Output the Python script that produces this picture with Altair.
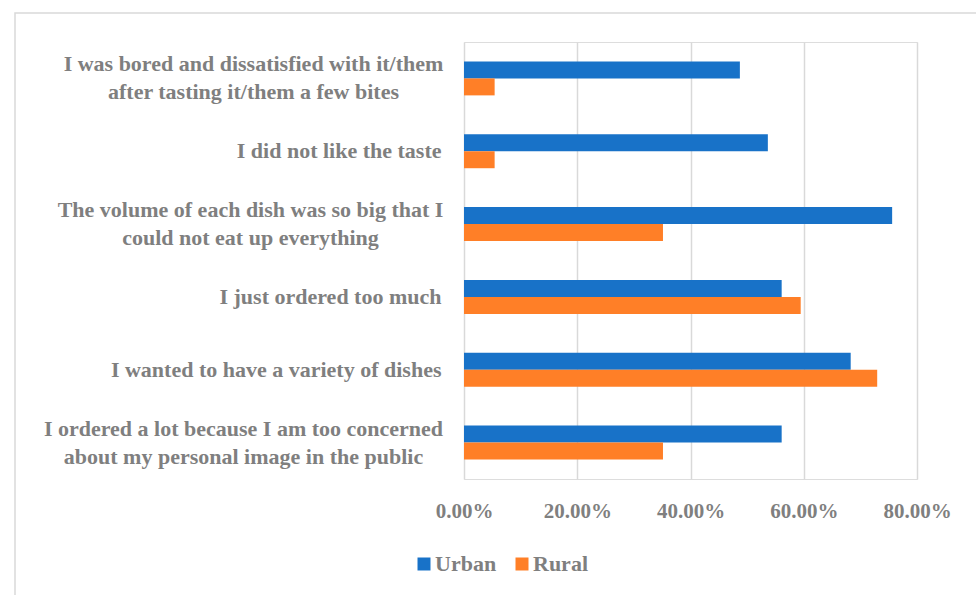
import altair as alt
import pandas as pd

categories = [
    "I was bored and dissatisfied with it/them|after tasting it/them a few bites",
    "I did not like the taste",
    "The volume of each dish was so big that I|could not eat up everything",
    "I just ordered too much",
    "I wanted to have a variety of dishes",
    "I ordered a lot because I am too concerned|about my personal image in the public",
]
urban = [0.4872, 0.5366, 0.7561, 0.5610, 0.6829, 0.5610]
rural = [0.0541, 0.0541, 0.3514, 0.5946, 0.7297, 0.3514]
series = ["Urban", "Rural"]
colors = ["#1872C8", "#FF7F27"]

rows = []
for c, u, r in zip(categories, urban, rural):
    rows.append({"reason": c, "group": "Urban", "value": u})
    rows.append({"reason": c, "group": "Rural", "value": r})
df = pd.DataFrame(rows)

FONT = "Liberation Serif"
GRAY = "#7F7F7F"
W, H = 453, 437
YFS = 22
PAD = 23
# approximate half widths of first lines of two-line labels (for centering the block)
half_first_line = {0: 188, 2: 191, 5: 198}

pad_conditions = [
    {"test": f"datum.value === '{categories[i]}'", "value": PAD + hw}
    for i, hw in half_first_line.items()
]
two_line_test = "indexof(datum.value, '|') >= 0"

bars = alt.Chart(df).mark_bar().encode(
    x=alt.X(
        "value:Q",
        scale=alt.Scale(domain=[0, 0.8], nice=False),
        axis=alt.Axis(
            format=".2%",
            values=[0, 0.2, 0.4, 0.6, 0.8],
            domain=False,
            ticks=False,
            grid=True,
            gridColor="#D9D9D9",
            gridWidth=1.5,
            labelFont=FONT,
            labelFontSize=21,
            labelFontWeight="bold",
            labelColor=GRAY,
            labelPadding=21,
            labelFlush=False,
            title=None,
        ),
    ),
    y=alt.Y(
        "reason:N",
        sort=categories,
        scale=alt.Scale(paddingInner=0.534, paddingOuter=0.267),
        axis=alt.Axis(
            domain=False,
            ticks=False,
            grid=False,
            labelFont=FONT,
            labelFontSize=YFS,
            labelFontWeight="bold",
            labelColor=GRAY,
            labelAlign={"condition": {"test": two_line_test, "value": "center"}, "value": "right"},
            labelPadding={"condition": pad_conditions, "value": PAD},
            labelOffset={"condition": {"test": two_line_test, "value": -14}, "value": 0},
            labelLimit=500,
            labelLineHeight=28,
            labelExpr="split(datum.label, '|')",
            title=None,
        ),
    ),
    yOffset=alt.YOffset("group:N", sort=series, scale=alt.Scale(paddingInner=0, paddingOuter=0)),
    color=alt.Color(
        "group:N",
        sort=series,
        scale=alt.Scale(domain=series, range=colors),
        legend=alt.Legend(
            title=None,
            orient="none",
            legendX=-51,
            legendY=511,
            direction="horizontal",
            symbolType="square",
            symbolSize=169,
            symbolStrokeWidth=0,
            labelFont=FONT,
            labelFontSize=22,
            labelFontWeight="bold",
            labelColor=GRAY,
            labelOffset=0,
            columnPadding=14,
        ),
    ),
)

frame = alt.Chart(pd.DataFrame({"a": [0]})).mark_rect(
    fill=None, stroke="#D9D9D9", strokeWidth=1.5
).encode(
    x=alt.value(-449), y=alt.value(-29), x2=alt.value(W + 100), y2=alt.value(H + 200)
)

chart = alt.layer(frame, bars).properties(
    width=W,
    height=H,
    autosize=alt.AutoSizeParams(type="none"),
    padding={"left": 464, "top": 42, "right": 59, "bottom": 116},
).configure_view(stroke=None).configure(background="white")

chart.save("out.html", embed_options={"renderer": "svg", "actions": False})
